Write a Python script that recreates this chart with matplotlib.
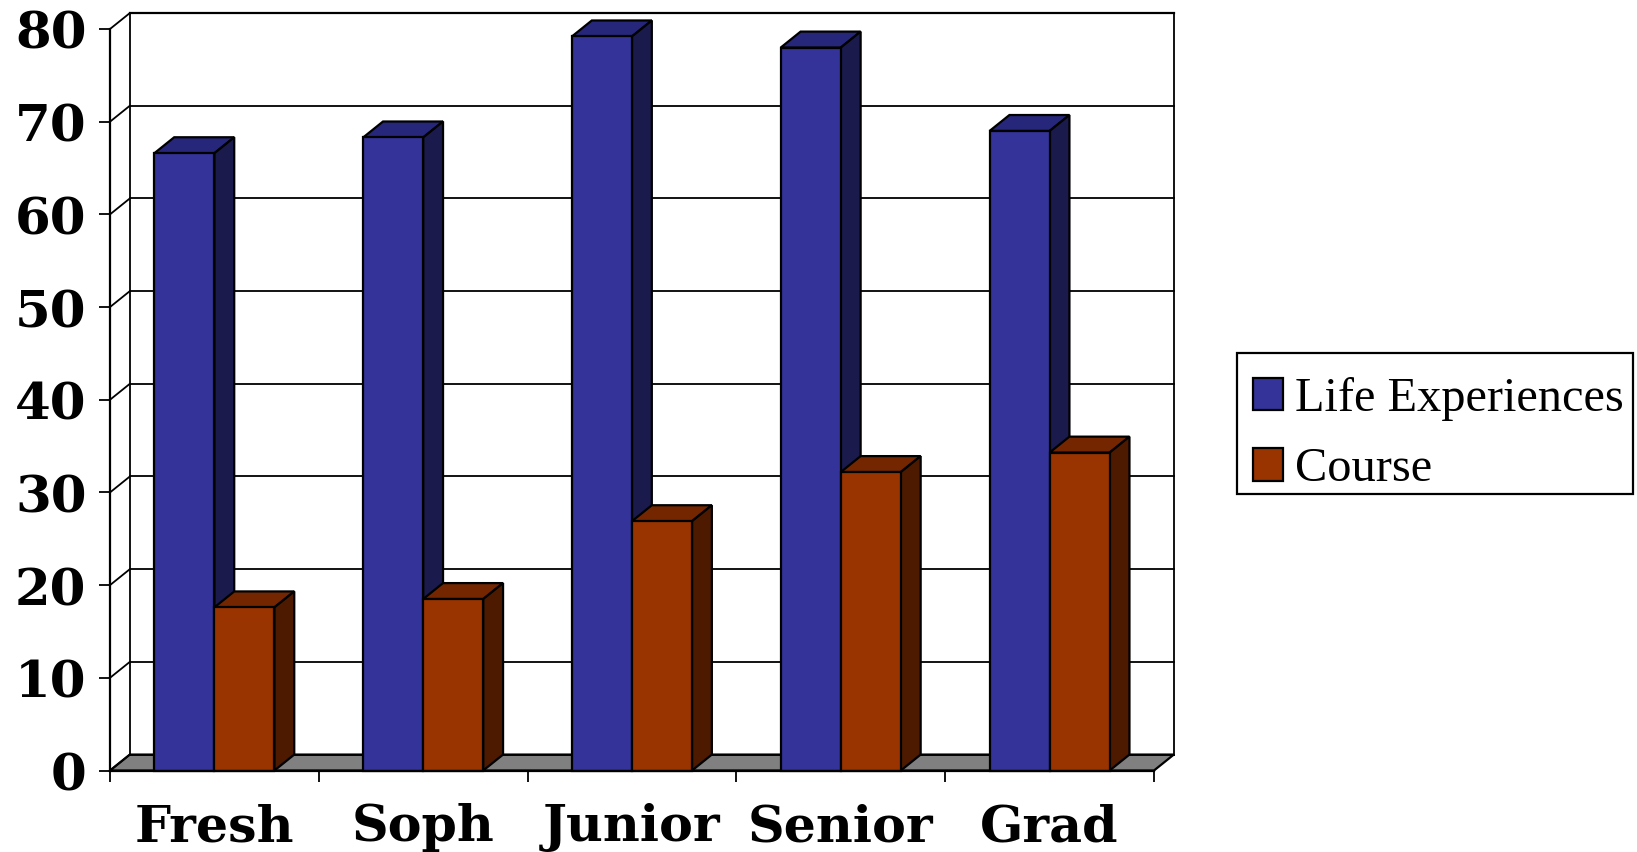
import matplotlib
matplotlib.use('Agg')
import matplotlib.pyplot as plt
from matplotlib.patches import Patch, Rectangle
from matplotlib.legend_handler import HandlerPatch

# values
categories = ['Fresh', 'Soph', 'Junior', 'Senior', 'Grad']
life_experiences = [66.6, 68.3, 79.2, 78.0, 69.0]
course = [17.6, 18.5, 26.9, 32.2, 34.3]
y_ticks = [0, 10, 20, 30, 40, 50, 60, 70, 80]

W, H = 1637, 853
LIFE = ('#333399', '#26267a', '#1a1a4d')
COURSE = ('#993300', '#732600', '#4d1a00')

bar_w = 0.2875
dx = 0.095   # depth of the fake 3d, in category units
dy = 1.72    # same, in y units
lw = 1.6

fig = plt.figure(figsize=(W / 100, H / 100), dpi=100, facecolor='white')
ax = fig.add_axes([110 / W, 1 - 771.5 / H, (1154 - 110) / W, (771.5 - 30) / H])
ax.set_xlim(-0.5, 4.5)
ax.set_ylim(0, 80)
ax.patch.set_visible(False)

for s in ['top', 'right', 'bottom']:
    ax.spines[s].set_visible(False)
ax.spines['left'].set_linewidth(lw)

x0, x1 = -0.5, 4.5

# floor
ax.fill([x0, x1, x1 + dx, x0 + dx], [0, 0, dy, dy], facecolor='#808080',
        edgecolor='black', linewidth=lw, clip_on=False, zorder=1)

# walls and gridlines
for t in y_ticks:
    ax.plot([x0, x0 + dx], [t, t + dy], color='black', lw=1.3, clip_on=False, zorder=1)
    ax.plot([x0 + dx, x1 + dx], [t + dy, t + dy], color='black',
            lw=lw if t == 80 else 1.3, clip_on=False, zorder=1)
ax.plot([x0 + dx, x0 + dx], [dy, 80 + dy], color='black', lw=1.3, clip_on=False, zorder=1)
ax.plot([x1 + dx, x1 + dx], [dy, 80 + dy], color='black', lw=1.3, clip_on=False, zorder=1)
ax.plot([x0, x1], [0, 0], color='black', lw=lw, clip_on=False, zorder=6)


def draw_bar(left, val, colors, z):
    front, top, side = colors
    ax.bar(left, val, width=bar_w, align='edge', color=front, edgecolor='black',
           linewidth=lw, clip_on=False, zorder=z + 1)
    ax.fill([left, left + bar_w, left + bar_w + dx, left + dx],
            [val, val, val + dy, val + dy], facecolor=top, edgecolor='black',
            linewidth=lw, clip_on=False, zorder=z, joinstyle='miter')
    ax.fill([left + bar_w, left + bar_w + dx, left + bar_w + dx, left + bar_w],
            [0, dy, val + dy, val], facecolor=side, edgecolor='black',
            linewidth=lw, clip_on=False, zorder=z, joinstyle='miter')


for i in range(len(categories)):
    draw_bar(i - bar_w, life_experiences[i], LIFE, 2)
    draw_bar(i, course[i], COURSE, 4)

# ticks: y on the values, x on the category borders
ax.set_yticks(y_ticks)
ax.set_yticklabels([str(t) for t in y_ticks], family='DejaVu Serif', weight='bold', size=37)
ax.tick_params(axis='y', length=8, width=1.3, pad=9)
ax.set_xticks([i - 0.5 for i in range(len(categories) + 1)])
ax.set_xticklabels([])
ax.tick_params(axis='x', length=8, width=1.3)
ax.set_xticks(range(len(categories)), labels=categories, minor=True,
              family='DejaVu Serif', weight='bold', size=36.5)
ax.tick_params(axis='x', which='minor', length=0, pad=23)

# legend frame on its own, the rows sit lower in it than a legend box would put them
fig.add_artist(Rectangle((1237 / W, 1 - 495 / H), (1633 - 1237) / W, (495 - 354) / H,
                         transform=fig.transFigure, facecolor='white',
                         edgecolor='black', linewidth=lw))
handles = [Patch(facecolor=LIFE[0], edgecolor='black', linewidth=lw),
           Patch(facecolor=COURSE[0], edgecolor='black', linewidth=lw)]
leg = fig.legend(handles, ['Life Experiences', 'Course'], loc='center left',
                 bbox_to_anchor=(1240 / W, 1 - 434 / H), frameon=False,
                 borderaxespad=0,
                 prop={'family': 'Liberation Serif', 'size': 34.8},
                 handlelength=0.62, handleheight=0.56, handletextpad=0.25,
                 labelspacing=0.55, borderpad=0.27,
                 handler_map={Patch: HandlerPatch(ypad=-0.06)})

fig.savefig('out.png', dpi=100, facecolor='white')
